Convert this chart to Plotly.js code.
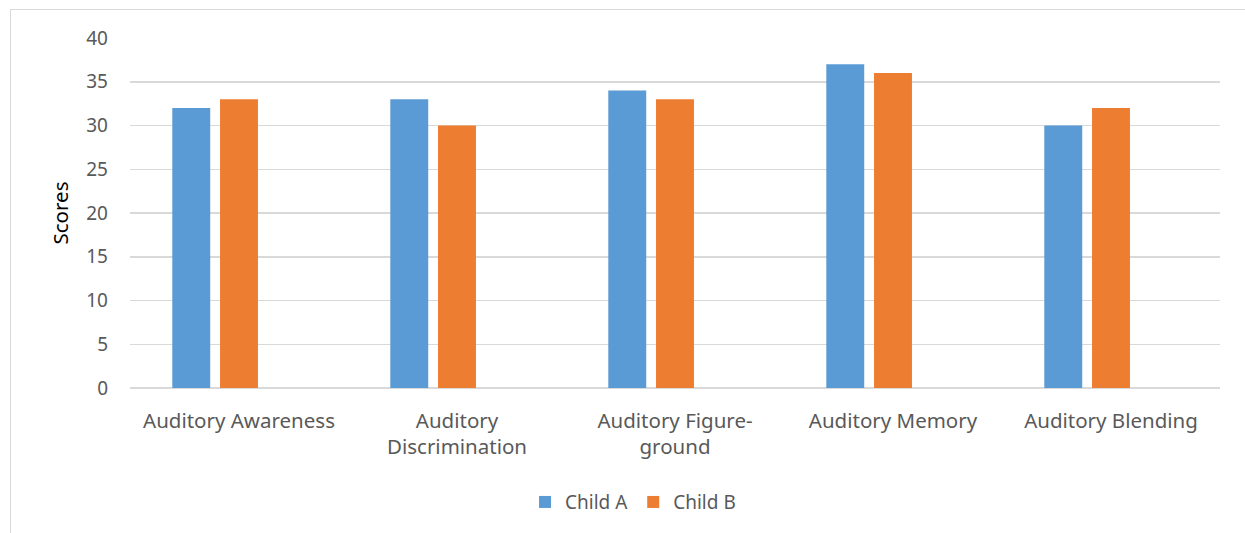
<!DOCTYPE html>
<html>
<head>
<meta charset="utf-8">
<script src="https://cdn.plot.ly/plotly-3.0.1.min.js"></script>
<style>
html,body{margin:0;padding:0;background:#fff;}
#wrap{position:relative;width:1245px;height:533px;}
#chart{width:1245px;height:533px;}
#frame{position:absolute;left:10px;top:9px;width:1300px;height:600px;border-left:1px solid #D9D9D9;border-top:1px solid #D9D9D9;pointer-events:none;}
</style>
</head>
<body>
<div id="wrap"><div id="chart"></div><div id="frame"></div></div>
<script>
const categories = ["Auditory Awareness", "Auditory Discrimination", "Auditory Figure-ground", "Auditory Memory", "Auditory Blending"];
const tickLabels = ["Auditory Awareness", "Auditory<br>Discrimination", "Auditory Figure-<br>ground", "Auditory Memory", "Auditory Blending"];
const childA = [32, 33, 34, 37, 30];
const childB = [33, 30, 33, 36, 32];
const yTicks = [0, 5, 10, 15, 20, 25, 30, 35, 40];

const FONT = "Noto Sans, sans-serif";
const barW = 0.174;

const traces = [
  {type:'bar', name:'Child A', x:categories, y:childA, width:barW, offset:-0.306,
   marker:{color:'#5B9BD5', line:{width:0}}, hoverinfo:'y'},
  {type:'bar', name:'Child B', x:categories, y:childB, width:barW, offset:-0.087,
   marker:{color:'#ED7D31', line:{width:0}}, hoverinfo:'y'}
];

const layout = {
  width:1245, height:533,
  margin:{l:130, r:25, t:38, b:145},
  paper_bgcolor:'rgba(0,0,0,0)', plot_bgcolor:'#fff',
  barmode:'overlay',
  font:{family:FONT, color:'#595959', size:19},
  showlegend:true,
  legend:{orientation:'h', x:0.4615, xanchor:'center', y:-0.326, yanchor:'middle',
    font:{family:FONT, size:19, color:'#595959'}, itemwidth:30, traceorder:'normal'},
  xaxis:{type:'category', tickmode:'array', tickvals:categories, ticktext:tickLabels,
    range:[-0.5, 4.5], showgrid:false, showline:false, ticks:'', zeroline:false,
    tickfont:{family:FONT, size:20.5, color:'#595959'}, ticklabelstandoff:18, automargin:false},
  yaxis:{range:[0,40], tickmode:'array', tickvals:yTicks, ticktext:yTicks.map(String),
    showgrid:true, gridcolor:'#D9D9D9', gridwidth:1.5, zeroline:true, zerolinecolor:'#D9D9D9', zerolinewidth:1.5,
    showline:false, ticks:'', tickfont:{family:FONT, size:19, color:'#595959'}, ticklabelstandoff:21,
    title:{text:'Scores', font:{family:FONT, size:20.5, color:'#000'}, standoff:12}, automargin:false}
};

Plotly.newPlot('chart', traces, layout, {displayModeBar:false, staticPlot:true});
</script>
</body>
</html>
